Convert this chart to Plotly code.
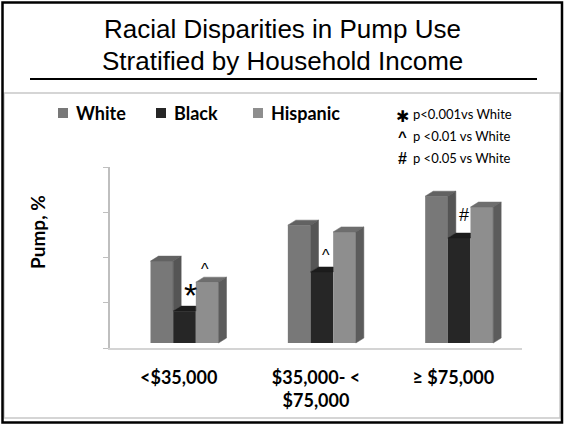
import plotly.graph_objects as go

# ---------------- data ----------------
categories = ["&lt;$35,000", "$35,000- &lt;<br>$75,000", "≥ $75,000"]
series_names = ["White", "Black", "Hispanic"]
white = [36.2, 52.1, 64.9]
black = [14.1, 31.4, 46.4]
hispanic = [26.9, 49.1, 60.1]
y_ticks = [0, 20, 40, 60, 80]
# significance markers: (symbol, category index, series)
sig_marks = [("*", 0, "Black"), ("^", 0, "Hispanic"), ("^", 1, "Black"), ("#", 2, "Black")]
footnote_symbols = ["✱", "^", "#"]
footnote_texts = ["p<0.001vs White", "p <0.01 vs White", "p <0.05 vs White"]
title_lines = ["Racial Disparities in Pump Use", "Stratified by Household Income"]
y_title = "Pump, %"

# ---------------- style ----------------
W, H = 564, 424
ML, MR, MT, MB = 110, 42, 167, 76
PW, PH = W - ML - MR, H - MT - MB
front_col = {"White": "#787878", "Black": "#262626", "Hispanic": "#8e8e8e"}
top_col = {"White": "#626262", "Black": "#1c1c1c", "Hispanic": "#6e6e6e"}
side_col = {"White": "#555555", "Black": "#161616", "Hispanic": "#5c5c5c"}
offsets = {"White": -0.205, "Black": -0.04, "Hispanic": 0.125}
BW = 0.165
FLOOR = 2.2
DX = 8 / (PW / 3.0)
DY = 5 / (PH / 80.0)
LAB_FONT = "Lato"
series_vals = {"White": white, "Black": black, "Hispanic": hispanic}
# per-marker style: font size, x shift, y shift (pixels)
sig_style = [dict(size=34, xs=2, ys=-10), dict(size=16, xs=-6, ys=-3),
             dict(size=16, xs=0, ys=1), dict(size=18, xs=1, ys=6)]


def px(x):
    return (x - ML) / PW


def py(y):
    return (H - MB - y) / PH


fig = go.Figure()
xs = list(range(len(categories)))

# front faces (bars)
for name in series_names:
    fig.add_trace(go.Bar(
        x=xs, y=series_vals[name], base=[FLOOR] * len(xs), width=BW,
        offset=offsets[name], name=name, marker=dict(color=front_col[name], line=dict(width=0)),
        showlegend=False, hoverinfo="skip"))

# 3D top and side faces computed from the data
for i in xs:
    for k, name in enumerate(series_names):
        xl = i + offsets[name]
        xr = xl + BW
        top = FLOOR + series_vals[name][i]
        nxt = None
        if k + 1 < len(series_names):
            nxt = FLOOR + series_vals[series_names[k + 1]][i]
        if nxt is not None and nxt >= top + DY:
            tx = [xl, xl + DX, xr, xr, xl]
        else:
            tx = [xl, xl + DX, xr + DX, xr, xl]
        ty = [top, top + DY, top + DY, top, top]
        fig.add_trace(go.Scatter(x=tx, y=ty, fill="toself", mode="lines",
                                 line=dict(width=0.5, color=top_col[name]),
                                 fillcolor=top_col[name], showlegend=False, hoverinfo="skip"))
        if nxt is not None and nxt >= top:
            continue
        yb = FLOOR if nxt is None else max(FLOOR, nxt)
        sx = [xr, xr + DX, xr + DX, xr, xr]
        sy = [yb, yb + DY, top + DY, top, yb]
        fig.add_trace(go.Scatter(x=sx, y=sy, fill="toself", mode="lines",
                                 line=dict(width=0.5, color=side_col[name]),
                                 fillcolor=side_col[name], showlegend=False, hoverinfo="skip"))

annotations = []
for (sym, ci, name), st in zip(sig_marks, sig_style):
    xc = ci + offsets[name] + BW / 2 + DX / 2
    annotations.append(dict(x=xc, y=FLOOR + series_vals[name][ci] + DY, xref="x", yref="y",
                            text=sym, showarrow=False, yanchor="bottom", yshift=st["ys"], xshift=st["xs"],
                            font=dict(family="Liberation Sans", size=st["size"], color="#000")))

# title
for j, line in enumerate(title_lines):
    annotations.append(dict(x=px(282), y=py(29 + 32 * j), xref="paper", yref="paper",
                            text=line, showarrow=False, xanchor="center", yanchor="middle",
                            font=dict(family="Liberation Sans", size=26, color="#000")))

# y title
annotations.append(dict(x=px(37), y=py(232), xref="paper", yref="paper", text="<b>" + y_title + "</b>",
                        textangle=-90, showarrow=False, xanchor="center", yanchor="middle",
                        font=dict(family=LAB_FONT, size=19, color="#000")))

# manual legend
shapes = []
leg_sq_x = [58, 156, 253]
for name, sx0 in zip(series_names, leg_sq_x):
    shapes.append(dict(type="rect", xref="paper", yref="paper", x0=px(sx0), x1=px(sx0 + 10),
                       y0=py(118), y1=py(108), fillcolor=front_col[name], line=dict(width=0)))
    annotations.append(dict(x=px(sx0 + 16), y=py(113), xref="paper", yref="paper",
                            text="<b>" + name + "</b>", showarrow=False, xanchor="left",
                            yanchor="middle", font=dict(family=LAB_FONT, size=18, color="#000")))

# footnotes
fn_y = [114, 136, 158]
fn_sym_font = {"✱": ("DejaVu Sans", 16), "^": ("Liberation Sans", 15), "#": ("Liberation Sans", 16)}
for sym, txt, yy in zip(footnote_symbols, footnote_texts, fn_y):
    fam, sz = fn_sym_font[sym]
    annotations.append(dict(x=px(402), y=py(yy + (2 if sym == "✱" else 0)), xref="paper", yref="paper",
                            text="<b>" + sym + "</b>", showarrow=False, xanchor="center", yanchor="middle",
                            font=dict(family=fam, size=sz, color="#000")))
    annotations.append(dict(x=px(411), y=py(yy), xref="paper", yref="paper", text=txt,
                            showarrow=False, xanchor="left", yanchor="middle",
                            font=dict(family=LAB_FONT, size=13, color="#000")))

# underline, frames
shapes.append(dict(type="line", xref="paper", yref="paper", x0=px(30), x1=px(537), y0=py(79), y1=py(79),
                   line=dict(color="#000", width=2)))
shapes.append(dict(type="rect", xref="paper", yref="paper", x0=px(4), x1=px(560), y0=py(418), y1=py(93),
                   line=dict(color="#c8c8c8", width=1.5)))
shapes.append(dict(type="rect", xref="paper", yref="paper", x0=px(2.5), x1=px(562), y0=py(422.5), y1=py(2.5),
                   line=dict(color="#000", width=2.5)))

fig.update_layout(
    width=W, height=H, margin=dict(l=ML, r=MR, t=MT, b=MB),
    paper_bgcolor="white", plot_bgcolor="white", barmode="overlay",
    annotations=annotations, shapes=shapes, showlegend=False,
    xaxis=dict(range=[-0.5, 2.5], tickvals=xs, ticktext=["<b>" + c + "</b>" for c in categories],
               showgrid=False, zeroline=False, showline=True, linecolor="#d4d4d4", linewidth=2,
               ticks="", ticklabelstandoff=12,
               tickfont=dict(family=LAB_FONT, size=18, color="#000")),
    yaxis=dict(range=[y_ticks[0], y_ticks[-1]], tickvals=y_ticks, showticklabels=False,
               ticks="outside", ticklen=5, tickcolor="#bfbfbf", showline=True, linecolor="#bfbfbf",
               linewidth=1.5, showgrid=False, zeroline=False),
)

fig.write_html("out.html")
